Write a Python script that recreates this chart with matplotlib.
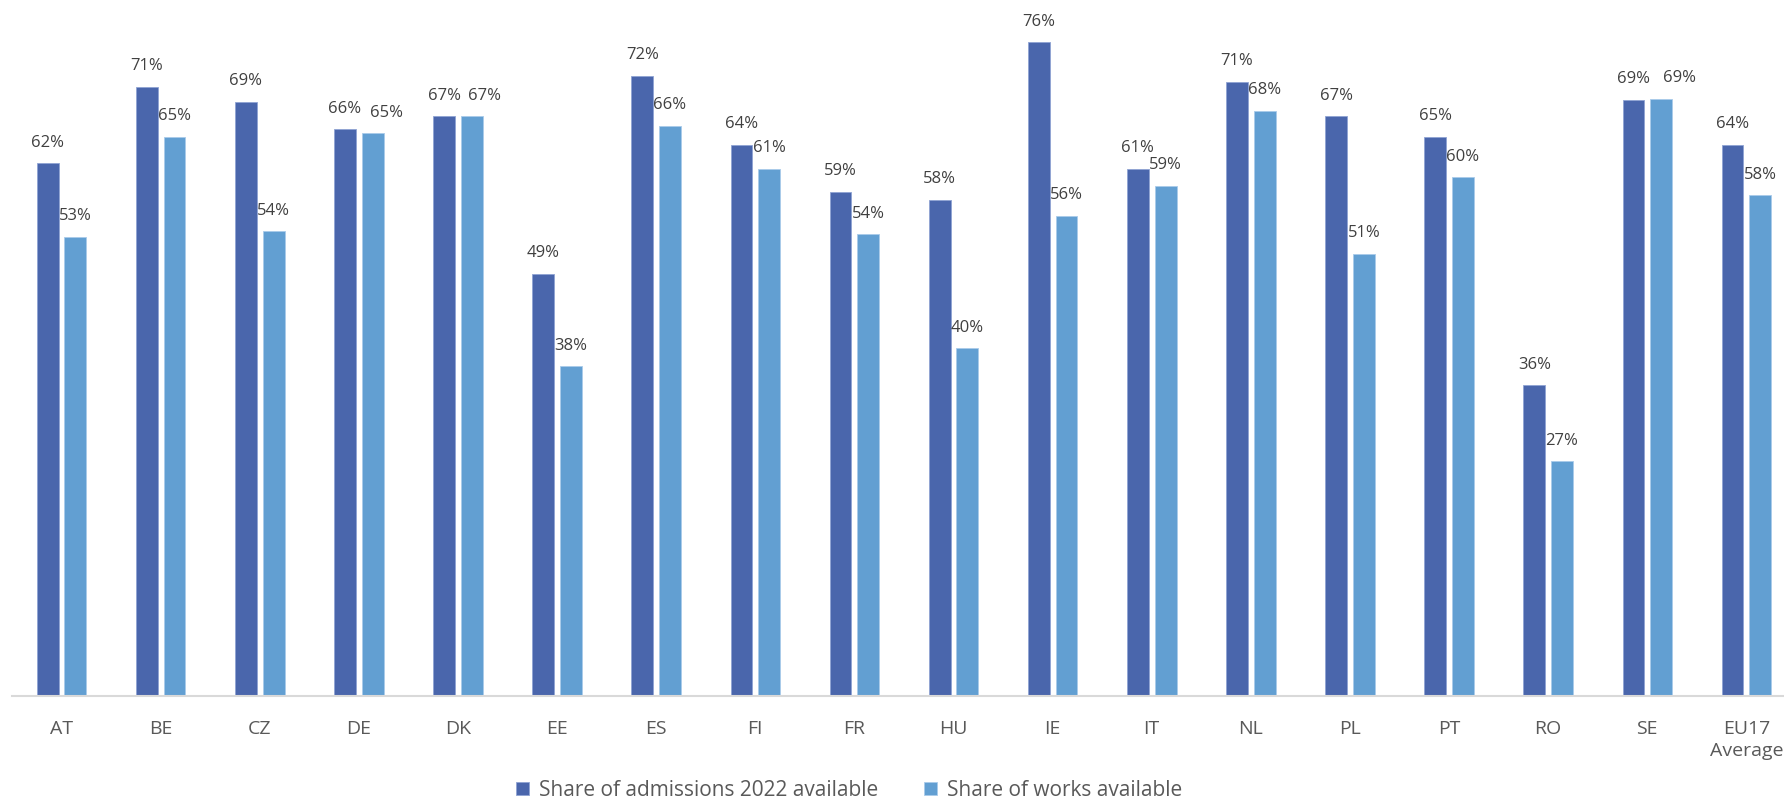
import numpy as np
import matplotlib
matplotlib.use("Agg")
import matplotlib.pyplot as plt

plt.rcParams['font.family'] = ['Open Sans', 'DejaVu Sans']

# Data (percent)
countries = ['AT', 'BE', 'CZ', 'DE', 'DK', 'EE', 'ES', 'FI', 'FR', 'HU',
             'IE', 'IT', 'NL', 'PL', 'PT', 'RO', 'SE', 'EU17\nAverage']
admissions = [61.9, 70.8, 69.1, 65.9, 67.4, 49.1, 72.1, 64.1, 58.6, 57.7,
              76.0, 61.3, 71.4, 67.4, 65.0, 36.1, 69.3, 64.1]
works = [53.4, 65.0, 54.0, 65.4, 67.4, 38.3, 66.3, 61.3, 53.7, 40.4,
         55.8, 59.3, 68.0, 51.4, 60.3, 27.3, 69.4, 58.2]

dark = '#4A66AC'
light = '#629FD2'

fig = plt.figure(figsize=(17.84, 8), dpi=100)
ax = fig.add_axes([0.0067, 0.13, 1.0, 0.87])

x = np.arange(len(countries))
w = 0.22
off = 0.14

b1 = ax.bar(x - off, admissions, w, color=dark, edgecolor='#8FA3D3', linewidth=0.6,
            label='Share of admissions 2022 available')
b2 = ax.bar(x + off, works, w, color=light, edgecolor='#A9CBEA', linewidth=0.6,
            label='Share of works available')

# value labels above bars; a few works labels are nudged right like in the original
nudge = {'DE': 10, 'DK': 9, 'SE': 13}
for bars, vals, shift in [(b1, admissions, False), (b2, works, True)]:
    for rect, v, c in zip(bars, vals, countries):
        dx = nudge.get(c, 0) if shift else 0
        ax.annotate(f'{round(v)}%', (rect.get_x() + rect.get_width() / 2, v),
                    xytext=(dx, 9), textcoords='offset points',
                    ha='center', va='bottom', fontsize=12, color='#404040')

ax.set_xlim(-0.5, len(countries) - 0.5)
ax.set_ylim(0, 80.9)
ax.set_yticks([])
ax.set_xticks(x)
ax.set_xticklabels(countries, fontsize=14, color='#595959', linespacing=1.3)
ax.tick_params(axis='x', length=0, pad=17)

for s in ['top', 'right', 'left']:
    ax.spines[s].set_visible(False)
ax.spines['bottom'].set_color('#D9D9D9')
ax.spines['bottom'].set_linewidth(1.5)

fig.legend(loc='center', bbox_to_anchor=(0.476, 0.0125), ncol=2, frameon=False,
           fontsize=15, handlelength=0.6, handleheight=0.6, handletextpad=0.5,
           columnspacing=2.2, labelcolor='#595959')

fig.savefig('out.png', dpi=100)
